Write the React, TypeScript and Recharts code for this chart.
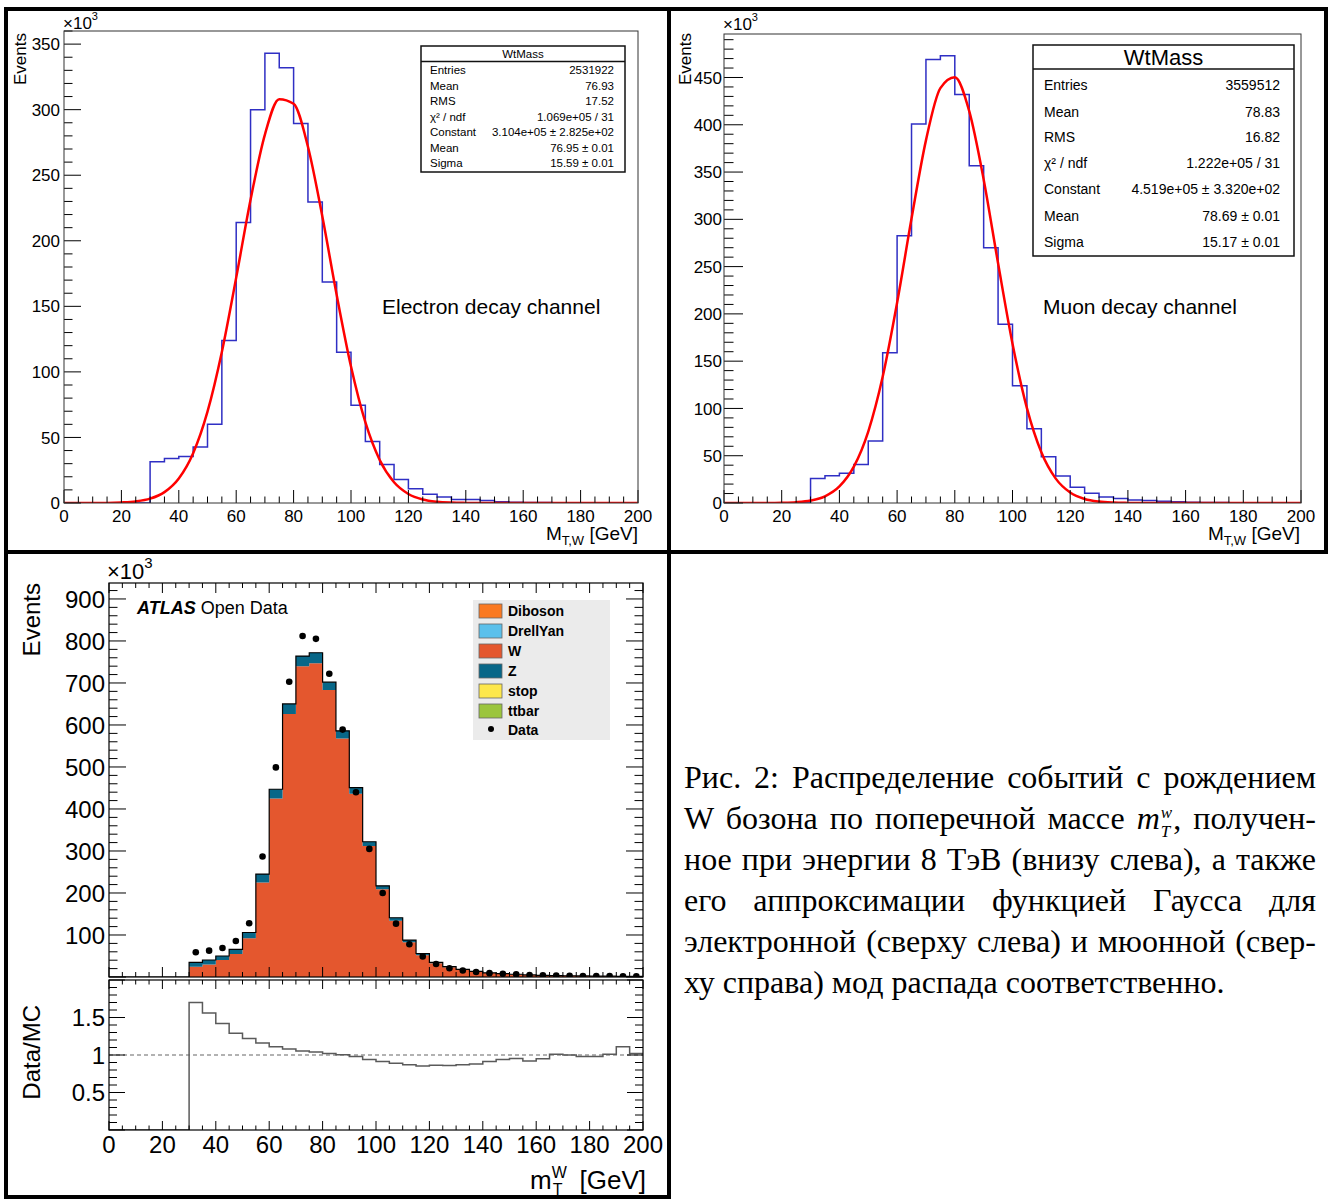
import React from 'react';
import { ComposedChart, Line, Area, Scatter, XAxis, YAxis, ReferenceLine } from 'recharts';

const SANS = '"Liberation Sans", Arial, Helvetica, sans-serif';
const SERIF = '"Liberation Serif", "Times New Roman", serif';

// ---------- data (values in units of 10^3 events) ----------
const binEdges = [0, 5, 10, 15, 20, 25, 30, 35, 40, 45, 50, 55, 60, 65, 70, 75, 80, 85, 90, 95, 100, 105, 110, 115, 120, 125, 130, 135, 140, 145, 150, 155, 160, 165, 170, 175, 180, 185, 190, 195, 200];

const electronCounts = [0, 0, 0, 0, 0, 0, 31.5, 33.9, 35.5, 42.7, 60, 124, 214, 300, 343, 332, 289.5, 229.6, 168.5, 115, 74.5, 47, 29.3, 18, 10.8, 6.7, 4.6, 2.7, 2.7, 1.9, 1, 0.6, 0.4, 0.3, 0.2, 0.2, 0.1, 0.1, 0.1, 0.1];
const electronFit = [0, 0, 0, 0.05, 0.4, 1.2, 3.3, 8.3, 18.7, 38, 69.7, 115.2, 171.9, 231.3, 281, 308, 304.5, 271.7, 218.7, 158.8, 104.1, 61.6, 32.8, 15.8, 6.9, 2.7, 0.95, 0.3, 0.08, 0, 0, 0, 0, 0, 0, 0, 0, 0, 0, 0, 0];

const muonCounts = [0, 0, 0, 0, 0, 0, 25.9, 28.9, 31.5, 40.7, 65.6, 159, 282.6, 400.7, 469, 473, 432, 356.7, 270, 189, 124, 78.5, 49, 28.5, 16.7, 10.4, 6.3, 4.8, 3.3, 2.6, 1.8, 1.2, 0.8, 0.6, 0.4, 0.3, 0.3, 0.2, 0.2, 0.1];
const muonFit = [0, 0, 0, 0.03, 0.25, 0.86, 2.6, 7.1, 17.5, 38.4, 75.6, 133.5, 211.8, 300.8, 383.5, 438.7, 450.2, 414.4, 342.2, 253.5, 168.5, 100.4, 53.7, 25.8, 11.1, 4.3, 1.5, 0.47, 0.13, 0, 0, 0, 0, 0, 0, 0, 0, 0, 0, 0, 0];

const wCounts = [0, 0, 0, 0, 0, 0, 24.5, 30, 40.5, 55, 92, 225, 425, 626, 740, 747, 683, 568, 436, 312, 209, 134, 83, 52, 33, 23, 17, 12.8, 9.5, 7.5, 6, 4.7, 3.8, 3.2, 2.7, 2.3, 1.9, 1.8, 1.4, 1.4];
const zCounts = [0, 0, 0, 0, 0, 0, 10.5, 10.5, 9.5, 11, 14, 20, 22, 24, 24, 25, 19, 18, 15, 10, 8, 7, 5, 4, 2, 1.5, 1, 0.7, 0.5, 0.5, 0.5, 0.3, 0.2, 0.3, 0.3, 0.2, 0.1, 0.2, 0.1, 0.1];

const dataCenters = [32.5, 37.5, 42.5, 47.5, 52.5, 57.5, 62.5, 67.5, 72.5, 77.5, 82.5, 87.5, 92.5, 97.5, 102.5, 107.5, 112.5, 117.5, 122.5, 127.5, 132.5, 137.5, 142.5, 147.5, 152.5, 157.5, 162.5, 167.5, 172.5, 177.5, 182.5, 187.5, 192.5, 197.5];
const dataCounts = [59, 62.7, 69, 85.7, 128, 287, 499, 703, 812, 805, 722, 589, 440, 305, 200, 127, 78, 49, 31, 21, 15.5, 12, 9.2, 7.5, 6.2, 4.6, 3.8, 3.5, 3, 2.5, 2, 2, 1.7, 1.5];

const ratioValues = [0, 0, 0, 0, 0, 0, 1.7, 1.56, 1.42, 1.29, 1.22, 1.16, 1.11, 1.08, 1.055, 1.04, 1.02, 1.005, 0.98, 0.94, 0.915, 0.89, 0.87, 0.855, 0.865, 0.86, 0.87, 0.88, 0.915, 0.94, 0.955, 0.92, 0.95, 1.01, 1.0, 0.98, 0.98, 1.01, 1.11, 1.02];

const electronStats: [string, string][] = [
  ['Entries', '2531922'], ['Mean', '76.93'], ['RMS', '17.52'], ['χ² / ndf', '1.069e+05 / 31'],
  ['Constant', '3.104e+05 ± 2.825e+02'], ['Mean', '76.95 ± 0.01'], ['Sigma', '15.59 ± 0.01'],
];
const muonStats: [string, string][] = [
  ['Entries', '3559512'], ['Mean', '78.83'], ['RMS', '16.82'], ['χ² / ndf', '1.222e+05 / 31'],
  ['Constant', '4.519e+05 ± 3.320e+02'], ['Mean', '78.69 ± 0.01'], ['Sigma', '15.17 ± 0.01'],
];
const legendNames = ['Diboson', 'DrellYan', 'W', 'Z', 'stop', 'ttbar'];
const legendColors = ['#fa7921', '#5bc0eb', '#e4572e', '#086788', '#fde74c', '#9bc53d'];

// ---------- helpers ----------
function range(a: number, b: number, s: number) {
  const r: number[] = [];
  for (let i = 0; a + i * s <= b + 1e-9; i++) r.push(Math.round((a + i * s) * 1000) / 1000);
  return r;
}
const isMult = (v: number, s: number) => Math.abs(v / s - Math.round(v / s)) < 1e-6;

const last = (arr: number[], i: number) => arr[Math.min(i, arr.length - 1)];
const electronTable = binEdges.map((x, i) => ({ x, h: last(electronCounts, i), f: electronFit[i] }));
const muonTable = binEdges.map((x, i) => ({ x, h: last(muonCounts, i), f: muonFit[i] }));
const stackTable = binEdges.map((x, i) => ({ x, w: last(wCounts, i), z: last(zCounts, i) }));
const dataTable = dataCenters.map((x, i) => ({ x, d: dataCounts[i] }));
const ratioTable = binEdges.map((x, i) => ({ x, r: last(ratioValues, i) }));

type Geo = { left: number; top: number; w: number; h: number };
type TickCfg = { step: number; major: number; minor: number; labels: boolean; fontSize: number; mirror: boolean; offset: number; skip?: (v: number) => boolean };

const AW = 70, MT = 20, MR = 40, XH = 50;

function makeXTick(geo: Geo, c: TickCfg) {
  const bottom = MT + geo.h, top = MT;
  return (p: any) => {
    const x = p.x;
    const v = p.payload ? p.payload.value : 0;
    const maj = isMult(v, c.step);
    const len = maj ? c.major : c.minor;
    return (
      <g>
        <line x1={x} x2={x} y1={bottom} y2={bottom - len} stroke="#000" strokeWidth={1} />
        {c.mirror ? <line x1={x} x2={x} y1={top} y2={top + len} stroke="#000" strokeWidth={1} /> : null}
        {c.labels && maj && !(c.skip && c.skip(v)) ? (
          <text x={x} y={bottom + c.offset} textAnchor="middle" fontSize={c.fontSize} fontFamily={SANS} fill="#000">{String(v)}</text>
        ) : null}
      </g>
    );
  };
}
function makeYTick(geo: Geo, c: TickCfg) {
  const left = AW, right = AW + geo.w;
  return (p: any) => {
    const y = p.y;
    const v = p.payload ? p.payload.value : 0;
    const maj = isMult(v, c.step);
    const len = maj ? c.major : c.minor;
    return (
      <g>
        <line x1={left} x2={left + len} y1={y} y2={y} stroke="#000" strokeWidth={1} />
        {c.mirror ? <line x1={right} x2={right - len} y1={y} y2={y} stroke="#000" strokeWidth={1} /> : null}
        {c.labels && maj && !(c.skip && c.skip(v)) ? (
          <text x={left - c.offset} y={y + c.fontSize * 0.36} textAnchor="end" fontSize={c.fontSize} fontFamily={SANS} fill="#000">{String(v)}</text>
        ) : null}
      </g>
    );
  };
}

function panel(key: string, geo: Geo, ymax: number, data: any[], xTicks: number[], yTicks: number[], xc: TickCfg, yc: TickCfg, series: React.ReactNode[]) {
  return (
    <div key={key} style={{ position: 'absolute', left: geo.left - AW, top: geo.top - MT }}>
      <ComposedChart width={AW + geo.w + MR} height={MT + geo.h + XH} data={data} margin={{ top: MT, right: MR, bottom: 0, left: 0 }}>
        {series}
        <XAxis type="number" dataKey="x" domain={[0, 200]} ticks={xTicks} interval={0} axisLine={false} tickLine={false} tick={makeXTick(geo, xc)} height={XH} allowDataOverflow />
        <YAxis type="number" domain={[0, ymax]} ticks={yTicks} interval={0} axisLine={false} tickLine={false} tick={makeYTick(geo, yc)} width={AW} allowDataOverflow />
      </ComposedChart>
    </div>
  );
}

const gElec: Geo = { left: 64, top: 31, w: 574, h: 472 };
const gMuon: Geo = { left: 724, top: 34, w: 577, h: 469 };
const gStack: Geo = { left: 109, top: 583, w: 534, h: 394 };
const gRatio: Geo = { left: 109, top: 980, w: 534, h: 150 };

const xTicks5 = range(0, 200, 5);
const HIST_BLUE = '#2f2fc4';

function StatBox(props: { x: number; y: number; w: number; h: number; titleH: number; titleSize: number; rowSize: number; rows: [string, string][]; rowYs: number[]; padL: number; padR: number }) {
  const { x, y, w, h, titleH, titleSize, rowSize, rows, rowYs, padL, padR } = props;
  return (
    <g fontFamily={SANS} fill="#000">
      <rect x={x} y={y} width={w} height={h} fill="#fff" stroke="#111" strokeWidth={1.5} />
      <line x1={x} x2={x + w} y1={y + titleH} y2={y + titleH} stroke="#111" strokeWidth={1.5} />
      <text x={x + w / 2} y={y + titleH / 2 + titleSize * 0.36} textAnchor="middle" fontSize={titleSize}>WtMass</text>
      {rows.map((r, i) => (
        <g key={i}>
          <text x={x + padL} y={rowYs[i] + rowSize * 0.36} fontSize={rowSize}>{r[0]}</text>
          <text x={x + w - padR} y={rowYs[i] + rowSize * 0.36} fontSize={rowSize} textAnchor="end">{r[1]}</text>
        </g>
      ))}
    </g>
  );
}

const captionLines: React.ReactNode[] = [
  'Рис. 2: Распределение событий с рождением',
  <>W бозона по поперечной массе <span style={{ fontStyle: 'italic' }}>m</span><span style={{ display: 'inline-block', fontStyle: 'italic', fontSize: 17, lineHeight: '19px', verticalAlign: '-8px', margin: '0 1px 0 1px' }}><span style={{ display: 'block' }}>w</span><span style={{ display: 'block' }}>T</span></span>, получен-</>,
  'ное при энергии 8 ТэВ (внизу слева), а также',
  'его аппроксимации функцией Гаусса для',
  'электронной (сверху слева) и мюонной (свер-',
  'ху справа) мод распада соответственно.',
];

export default function App() {
  const dotShape = (p: any) => <circle cx={p.cx} cy={p.cy} r={3.3} fill="#000" />;
  return (
    <div style={{ position: 'absolute', left: 0, top: 0, width: 1331, height: 1200, background: '#fff', overflow: 'hidden' }}>
      {panel('elec', gElec, 360, electronTable, xTicks5, range(0, 360, 10),
        { step: 20, major: 13, minor: 6.5, labels: true, fontSize: 17, mirror: false, offset: 19 },
        { step: 50, major: 17, minor: 8.5, labels: true, fontSize: 17, mirror: false, offset: 4 },
        [
          <Line key="h" type="stepAfter" dataKey="h" stroke={HIST_BLUE} strokeWidth={1.5} dot={false} isAnimationActive={false} />,
          <Line key="f" type="monotone" dataKey="f" stroke="#ff0000" strokeWidth={2.5} dot={false} isAnimationActive={false} />,
        ])}
      {panel('muon', gMuon, 496, muonTable, xTicks5, range(0, 490, 10),
        { step: 20, major: 13, minor: 6.5, labels: true, fontSize: 17, mirror: false, offset: 19 },
        { step: 50, major: 19, minor: 9.5, labels: true, fontSize: 17, mirror: false, offset: 2 },
        [
          <Line key="h" type="stepAfter" dataKey="h" stroke={HIST_BLUE} strokeWidth={1.5} dot={false} isAnimationActive={false} />,
          <Line key="f" type="monotone" dataKey="f" stroke="#ff0000" strokeWidth={2.5} dot={false} isAnimationActive={false} />,
        ])}
      {panel('stack', gStack, 938, stackTable, xTicks5, range(0, 920, 20),
        { step: 20, major: 10, minor: 5, labels: false, fontSize: 24, mirror: true, offset: 20 },
        { step: 100, major: 17, minor: 8.5, labels: true, fontSize: 24, mirror: true, offset: 4, skip: (v) => v === 0 },
        [
          <Area key="w" type="stepAfter" dataKey="w" stackId="s" fill="#e4572e" fillOpacity={1} stroke="none" isAnimationActive={false} />,
          <Area key="z" type="stepAfter" dataKey="z" stackId="s" fill="#086788" fillOpacity={1} stroke="#000" strokeWidth={1.2} isAnimationActive={false} />,
          <Scatter key="d" data={dataTable} dataKey="d" shape={dotShape} isAnimationActive={false} />,
        ])}
      {panel('ratio', gRatio, 2, ratioTable, xTicks5, range(0, 2, 0.1),
        { step: 20, major: 9, minor: 4.5, labels: true, fontSize: 24, mirror: true, offset: 23 },
        { step: 0.5, major: 16, minor: 8, labels: true, fontSize: 24, mirror: true, offset: 4, skip: (v) => v === 0 || v === 2 },
        [
          <ReferenceLine key="one" y={1} stroke="#999" strokeDasharray="4 3" strokeWidth={1.5} />,
          <Line key="r" type="stepAfter" dataKey="r" stroke="#5a5a5a" strokeWidth={1.5} dot={false} isAnimationActive={false} />,
        ])}

      <svg width={1331} height={1200} style={{ position: 'absolute', left: 0, top: 0, pointerEvents: 'none' }} fontFamily={SANS}>
        {/* plot frames */}
        <rect x={gElec.left} y={gElec.top} width={gElec.w} height={gElec.h} fill="none" stroke="#333" strokeWidth={1} />
        <rect x={gMuon.left} y={gMuon.top} width={gMuon.w} height={gMuon.h} fill="none" stroke="#333" strokeWidth={1} />
        <rect x={gStack.left} y={gStack.top} width={gStack.w} height={gStack.h} fill="none" stroke="#000" strokeWidth={1.2} />
        <rect x={gRatio.left} y={gRatio.top} width={gRatio.w} height={gRatio.h} fill="none" stroke="#000" strokeWidth={1.2} />

        {/* electron annotations */}
        <text x={63} y={29} fontSize={17}>×10<tspan dy={-9} fontSize={11}>3</tspan></text>
        <text transform="translate(26,33) rotate(-90)" textAnchor="end" fontSize={17}>Events</text>
        <text x={638} y={540} textAnchor="end" fontSize={19}>M<tspan fontSize={13} dy={5}>T,W</tspan><tspan dy={-5}> [GeV]</tspan></text>
        <text x={382} y={314} fontSize={21}>Electron decay channel</text>
        <StatBox x={421} y={46} w={204} h={126} titleH={15.5} titleSize={11.5} rowSize={11.5}
          rows={electronStats} rowYs={[69.5, 86, 101, 117, 132, 148, 163]} padL={9} padR={11} />

        {/* muon annotations */}
        <text x={723} y={30} fontSize={17}>×10<tspan dy={-9} fontSize={11}>3</tspan></text>
        <text transform="translate(691,33) rotate(-90)" textAnchor="end" fontSize={17}>Events</text>
        <text x={1300} y={540} textAnchor="end" fontSize={19}>M<tspan fontSize={13} dy={5}>T,W</tspan><tspan dy={-5}> [GeV]</tspan></text>
        <text x={1043} y={314} fontSize={21}>Muon decay channel</text>
        <StatBox x={1033} y={45} w={261} h={211} titleH={24} titleSize={22} rowSize={14}
          rows={muonStats} rowYs={[85, 112, 137, 163, 189, 216, 242]} padL={11} padR={14} />

        {/* ATLAS annotations */}
        <text x={107} y={579} fontSize={22}>×10<tspan dy={-11} fontSize={15}>3</tspan></text>
        <text transform="translate(40,583) rotate(-90)" textAnchor="end" fontSize={24}>Events</text>
        <text transform="translate(40,1005) rotate(-90)" textAnchor="end" fontSize={24}>Data/MC</text>
        <text x={137} y={614} fontSize={18}><tspan fontWeight="bold" fontStyle="italic">ATLAS</tspan> Open Data</text>
        <text x={530} y={1189} fontSize={26}>m<tspan fontSize={16} dy={-11}>W</tspan><tspan fontSize={16} dx={-14} dy={17}>T</tspan></text>
        <text x={646} y={1189} textAnchor="end" fontSize={26}>[GeV]</text>

        {/* legend */}
        <rect x={473} y={600} width={137} height={140} fill="#ebebeb" />
        {legendNames.map((n, i) => (
          <g key={n}>
            <rect x={479} y={604 + i * 20} width={23} height={14} fill={legendColors[i]} stroke="#666" strokeWidth={0.8} />
            <text x={508} y={616 + i * 20} fontSize={14} fontWeight="bold">{n}</text>
          </g>
        ))}
        <circle cx={491} cy={729} r={3} fill="#000" />
        <text x={508} y={735} fontSize={14} fontWeight="bold">Data</text>

        {/* black panel borders */}
        <rect x={4} y={7} width={1324} height={4} fill="#000" />
        <rect x={4} y={7} width={4} height={1192} fill="#000" />
        <rect x={667} y={7} width={4} height={1192} fill="#000" />
        <rect x={1324} y={7} width={4} height={547} fill="#000" />
        <rect x={4} y={550} width={1324} height={4} fill="#000" />
        <rect x={4} y={1195} width={667} height={4} fill="#000" />
      </svg>

      <div style={{ position: 'absolute', left: 684, top: 757, width: 632, fontFamily: SERIF, fontSize: 32, lineHeight: '41px', color: '#000' }}>
        {captionLines.map((l, i) => (
          <div key={i} style={{ whiteSpace: 'nowrap', height: 41, textAlign: i < 5 ? 'justify' : 'left', textAlignLast: i < 5 ? 'justify' : 'left' } as React.CSSProperties}>{l}</div>
        ))}
      </div>
    </div>
  );
}
